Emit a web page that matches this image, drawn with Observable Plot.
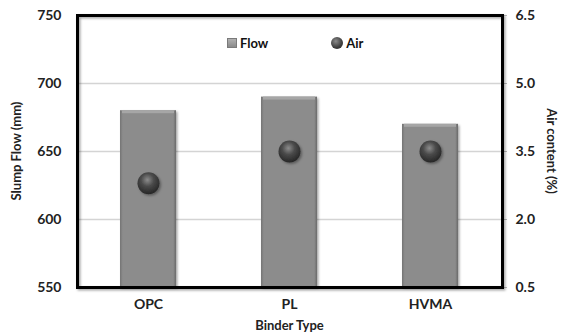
<!DOCTYPE html>
<html>
<head>
<meta charset="utf-8">
<script src="https://cdn.jsdelivr.net/npm/d3@7"></script>
<script src="https://cdn.jsdelivr.net/npm/@observablehq/plot@0.6"></script>
<style>
  html, body { margin: 0; padding: 0; background: #fff; }
  #chart { position: relative; width: 562px; height: 336px; font-family: Lato, "Open Sans", sans-serif; }
  #chart svg { display: block; }
  .legend { position: absolute; top: 35px; left: 227px; display: flex; align-items: center; font: bold 13px Lato, sans-serif; color: #111; }
  .legend .sw-bar { width: 8px; height: 8px; background: linear-gradient(#b0b0b0, #8a8a8a); border: 1px solid #7a7a7a; margin-right: 3px; }
  .legend .sw-dot { width: 12px; height: 12px; border-radius: 50%; background: radial-gradient(circle at 40% 35%, #8a8a8a, #3c3c3c 60%, #2a2a2a); margin-right: 3px; }
  .legend .gap { width: 63px; }
</style>
</head>
<body>
<div id="chart"></div>
<script>
// Binder types and their measured properties
const binders = ["OPC", "PL", "HVMA"];
const slumpFlow = [680, 690, 670];      // mm
const airContent = [2.8, 3.5, 3.5];     // %

// Axis ticks
const flowTicks = [550, 600, 650, 700, 750];
const airTicks = [0.5, 2.0, 3.5, 5.0, 6.5];
const airTickLabels = ["0.5", "2.0", "3.5", "5.0", "6.5"];

const flowDomain = [550, 750];
const airDomain = [0.5, 6.5];
// map the air-content (secondary) axis onto the slump-flow scale
const airToFlow = d3.scaleLinear().domain(airDomain).range(flowDomain);

const rows = binders.map((b, i) => ({binder: b, flow: slumpFlow[i], air: airContent[i], airY: airToFlow(airContent[i])}));

const W = 562, H = 336;
const margin = {top: 15, right: 60, bottom: 49, left: 77};

const chart = Plot.plot({
  width: W,
  height: H,
  marginTop: margin.top,
  marginRight: margin.right,
  marginBottom: margin.bottom,
  marginLeft: margin.left,
  style: {fontFamily: "Lato, 'Open Sans', sans-serif", fontSize: "14px", fontWeight: "bold", color: "#222"},
  x: {domain: binders, paddingInner: 0.6, paddingOuter: 0.3, label: null},
  y: {domain: flowDomain, label: null},
  marks: [
    Plot.ruleY([600, 650, 700], {stroke: "#d4d4d4", strokeWidth: 1.5}),
    Plot.barY(rows, {x: "binder", y1: flowDomain[0], y2: "flow", fill: "url(#barGrad)"}),
    Plot.dot(rows, {x: "binder", y: "airY", r: 11, fill: "url(#dotGrad)"}),
    Plot.axisY(flowTicks, {anchor: "left", tickSize: 0, tickPadding: 16, label: null, fontSize: 14}),
    Plot.axisY(airTicks.map(airToFlow), {anchor: "right", tickSize: 4, tickPadding: 9, stroke: "#bbb", label: null,
      tickFormat: (d) => airTickLabels[airTicks.findIndex(t => Math.abs(airToFlow(t) - d) < 1e-6)], fontSize: 14}),
    Plot.axisX({tickSize: 0, tickPadding: 12, label: null, fontSize: 14}),
    Plot.frame({stroke: "#000", strokeWidth: 3})
  ]
});

const svg = d3.select(chart);
const defs = svg.insert("defs", ":first-child");
const bg = defs.append("linearGradient").attr("id", "barGrad").attr("x1", "0").attr("x2", "1").attr("y1", "0").attr("y2", "0");
[["0%", "#747474"], ["5%", "#8c8c8c"], ["95%", "#8c8c8c"], ["100%", "#6a6a6a"]]
  .forEach(([o, c]) => bg.append("stop").attr("offset", o).attr("stop-color", c));
const dg = defs.append("radialGradient").attr("id", "dotGrad").attr("cx", "0.45").attr("cy", "0.35").attr("r", "0.65");
[["0%", "#8c8c8c"], ["45%", "#4a4a4a"], ["100%", "#262626"]]
  .forEach(([o, c]) => dg.append("stop").attr("offset", o).attr("stop-color", c));
const sh = defs.append("filter").attr("id", "shadow").attr("x", "-20%").attr("y", "-20%").attr("width", "140%").attr("height", "140%");
sh.append("feDropShadow").attr("dx", 1.5).attr("dy", 1.5).attr("stdDeviation", 1.2).attr("flood-color", "#000").attr("flood-opacity", 0.35);

// soft shadows on bars, dots and frame
svg.selectAll("[aria-label='bar'], [aria-label='dot'], [aria-label='frame']").attr("filter", "url(#shadow)");
// bevelled top edge on bars
svg.select("[aria-label='bar']").selectAll("rect").each(function() {
  const r = d3.select(this);
  d3.select(this.parentNode).append("rect")
    .attr("x", +r.attr("x") + 2).attr("y", +r.attr("y")).attr("width", +r.attr("width") - 4).attr("height", 3)
    .attr("fill", "#a6a6a6");
});

const cx = (margin.left + W - margin.right) / 2;
const cy = (margin.top + H - margin.bottom) / 2;
const titles = svg.append("g").attr("font-family", "Lato, 'Open Sans', sans-serif").attr("font-size", 13).attr("fill", "#222").attr("text-anchor", "middle");
titles.append("text").attr("transform", `translate(21,${cy}) rotate(-90)`).attr("font-weight", "bold").text("Slump Flow (mm)");
titles.append("text").attr("transform", `translate(547,${cy}) rotate(90)`).attr("font-weight", "bold").text("Air content (%)");
titles.append("text").attr("x", cx).attr("y", 330).attr("font-weight", "bold").text("Binder Type");

const host = document.getElementById("chart");
host.appendChild(chart);
const legend = document.createElement("div");
legend.className = "legend";
legend.innerHTML = '<span class="sw-bar"></span><span>Flow</span><span class="gap"></span><span class="sw-dot"></span><span>Air</span>';
host.appendChild(legend);
</script>
</body>
</html>
